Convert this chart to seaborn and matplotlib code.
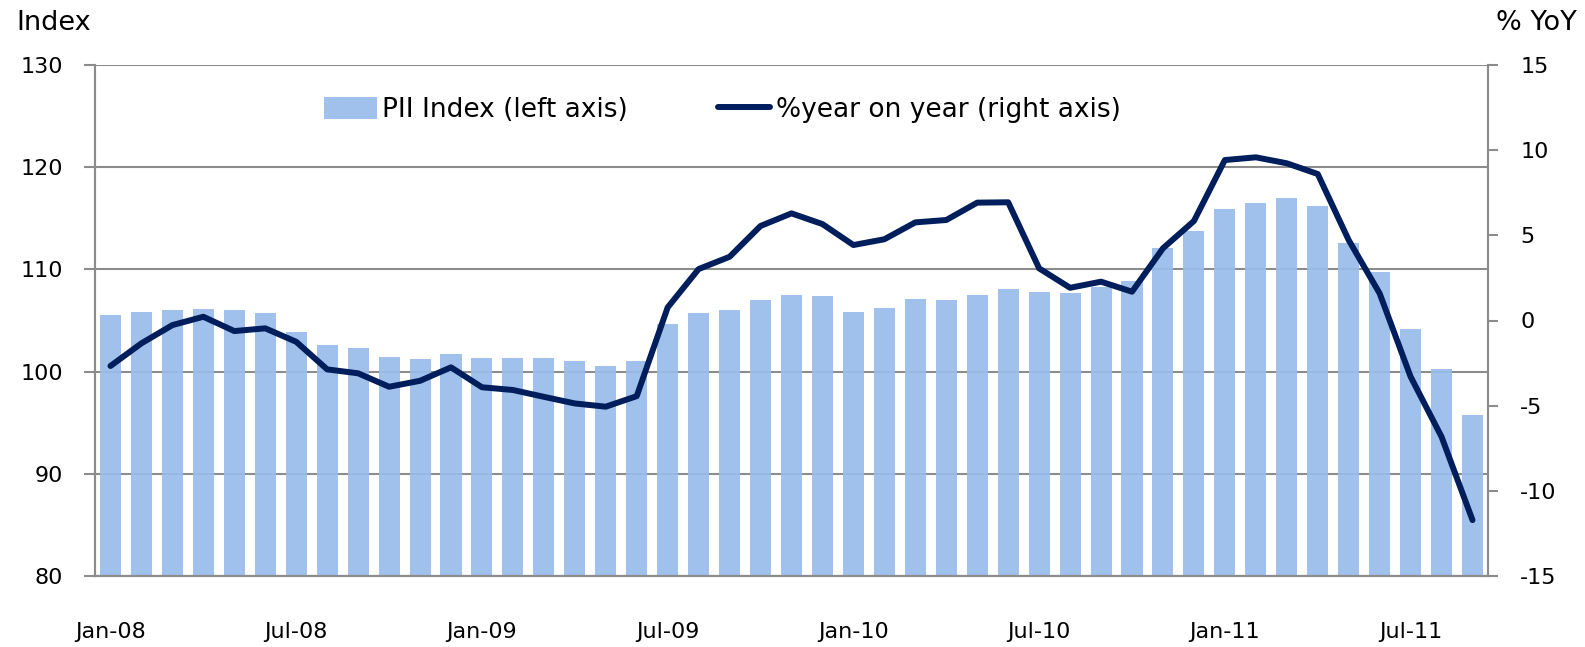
import numpy as np
import pandas as pd
import matplotlib
matplotlib.use("Agg")
import matplotlib.pyplot as plt
import seaborn as sns

# Monthly data, Jan-08 .. Sep-11
months = pd.date_range("2008-01-01", periods=45, freq="MS").strftime("%b-%y").tolist()
pii_index = [105.5, 105.8, 106.0, 106.1, 106.0, 105.7, 103.9, 102.6, 102.3, 101.4,
             101.2, 101.7, 101.3, 101.3, 101.3, 101.0, 100.5, 101.0, 104.7, 105.7,
             106.0, 107.0, 107.5, 107.4, 105.8, 106.2, 107.1, 107.0, 107.5, 108.05,
             107.8, 107.7, 108.3, 108.9, 112.1, 113.8, 115.9, 116.5, 117.0, 116.2,
             112.6, 109.7, 104.2, 100.3, 95.75]
yoy_pct = [-2.67, -1.34, -0.27, 0.22, -0.62, -0.46, -1.25, -2.87, -3.10, -3.89,
           -3.54, -2.75, -3.92, -4.08, -4.48, -4.87, -5.06, -4.44, 0.77, 3.02,
           3.74, 5.55, 6.29, 5.66, 4.43, 4.77, 5.76, 5.90, 6.92, 6.94,
           3.06, 1.92, 2.28, 1.69, 4.24, 5.84, 9.42, 9.58, 9.23, 8.60,
           4.72, 1.59, -3.30, -6.83, -11.72]

left_ticks = [80, 90, 100, 110, 120, 130]
right_ticks = [-15, -10, -5, 0, 5, 10, 15]

BAR_COLOR = "#97BCEB"
LINE_COLOR = "#001E5C"
GREY = "#8C8C8C"

sns.set_style("white")
plt.rcParams["font.family"] = ["DejaVu Sans"]
plt.rcParams["axes.unicode_minus"] = False
plt.rcParams["text.color"] = "black"
plt.rcParams["xtick.color"] = "black"
plt.rcParams["ytick.color"] = "black"

df = pd.DataFrame({"month": months, "pii": pii_index, "yoy": yoy_pct})

fig = plt.figure(figsize=(15.85, 6.47), dpi=100)
ax = fig.add_axes([95 / 1585, 1 - 576 / 647, (1488 - 95) / 1585, (576 - 65) / 647])

sns.barplot(data=df, x="month", y="pii", ax=ax, color=BAR_COLOR, saturation=1,
            width=0.68, alpha=0.92, edgecolor="none", zorder=2,
            label="PII Index (left axis)")
if ax.get_legend() is not None:
    ax.get_legend().remove()
ax.set_ylim(80, 130)
ax.set_xlim(-0.5, len(months) - 0.5)
ax.set_yticks(left_ticks)
ax.yaxis.grid(True, color=GREY, linewidth=1.5)
ax.set_axisbelow(True)
ax.set_xlabel("")
ax.set_ylabel("")

# month ticks sit between bars, labels under the bar of that month
ax.set_xticks(np.arange(-0.5, len(months), 6))
ax.set_xticklabels([])
ax.set_xticks(np.arange(0, len(months), 6), minor=True)
ax.set_xticklabels(months[::6], minor=True, fontsize=16)
ax.tick_params(axis="x", which="major", length=7.2, width=1.5, color=GREY, direction="out")
ax.tick_params(axis="x", which="minor", length=0, pad=33, labelcolor="black")
ax.tick_params(axis="y", length=8, width=1.5, color=GREY, direction="out",
               labelsize=16, pad=15, left=True, labelcolor="black")

ax2 = ax.twinx()
sns.lineplot(x=np.arange(len(months)), y=df["yoy"], ax=ax2, color=LINE_COLOR,
             linewidth=4.3, label="%year on year (right axis)", legend=False)
ax2.set_ylim(-15, 15)
ax2.set_yticks(right_ticks)
ax2.set_ylabel("")
ax2.tick_params(axis="y", length=7.2, width=1.5, color=GREY, direction="out",
                labelsize=16, pad=16, right=True, labelcolor="black")
ax2.set_xlim(-0.5, len(months) - 0.5)

for a in (ax, ax2):
    for side in ("left", "right", "bottom"):
        a.spines[side].set_color(GREY)
        a.spines[side].set_linewidth(1.5)
    a.spines["top"].set_visible(False)

h1, l1 = ax.get_legend_handles_labels()
h2, l2 = ax2.get_legend_handles_labels()
fig.legend(h1 + h2, l1 + l2, loc="center left", bbox_to_anchor=(324 / 1585, 1 - 110 / 647),
           ncol=2, frameon=False, fontsize=19, handlelength=2.0, handleheight=0.9,
           handletextpad=0.2, columnspacing=3.4, borderpad=0, borderaxespad=0,
           labelcolor="black")

fig.text(16 / 1585, 1 - 23 / 647, "Index", fontsize=19.5, ha="left", va="center", color="black")
fig.text(1577 / 1585, 1 - 23 / 647, "% YoY", fontsize=19.5, ha="right", va="center", color="black")

fig.savefig("out.png", dpi=100)
